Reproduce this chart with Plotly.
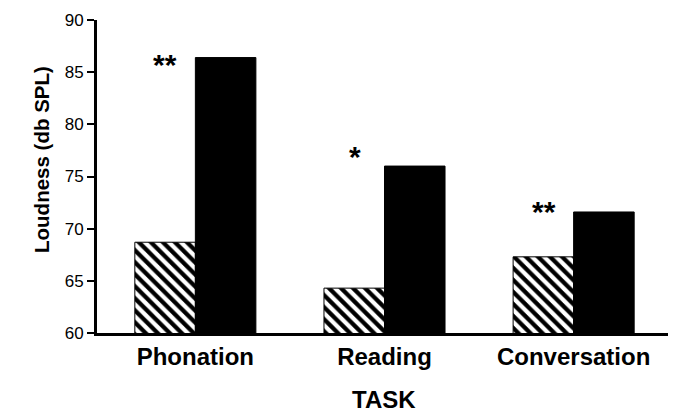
import plotly.graph_objects as go

categories = ["Phonation", "Reading", "Conversation"]
hatched_values = [68.7, 64.3, 67.3]
black_values = [86.4, 76.0, 71.6]
star_labels = ["**", "*", "**"]
star_values = [85.9, 77.1, 71.8]
y_ticks = [60, 65, 70, 75, 80, 85, 90]

FONT = "Liberation Sans, Arial, sans-serif"

fig = go.Figure()
fig.add_trace(go.Bar(
    x=categories, y=hatched_values,
    marker=dict(color="white", line=dict(color="black", width=1),
                pattern=dict(shape="\\", fgcolor="black", bgcolor="white", fgopacity=1,
                             fillmode="replace", size=8.5, solidity=0.5)),
    showlegend=False,
))
fig.add_trace(go.Bar(
    x=categories, y=black_values,
    marker=dict(color="black", line=dict(color="black", width=1)),
    showlegend=False,
))

for cat, val, s in zip(categories, star_values, star_labels):
    fig.add_annotation(x=cat, y=val, text=s, showarrow=False, xshift=-30, yshift=-2,
                       xanchor="center", yanchor="middle",
                       font=dict(family=FONT, size=30, color="black", weight="bold"))

fig.add_annotation(xref="paper", yref="paper", x=-0.0957, y=0.556, text="Loudness (db SPL)",
                   textangle=-90, showarrow=False, xanchor="center", yanchor="middle",
                   font=dict(family=FONT, size=20.5, color="black", weight="bold"))
fig.add_annotation(xref="paper", yref="paper", x=0.499, y=-0.262, text="TASK",
                   showarrow=False, xanchor="center", yanchor="bottom",
                   font=dict(family=FONT, size=24, color="black", weight="bold"))

fig.update_layout(
    width=668, height=404,
    margin=dict(l=89, r=4, t=12, b=79, autoexpand=False),
    paper_bgcolor="white", plot_bgcolor="white",
    barmode="group", bargap=0.36, bargroupgap=0,
    xaxis=dict(range=[-0.52, 2.52], showline=True, linecolor="black", linewidth=3,
               ticks="", showgrid=False, zeroline=False, automargin=False,
               tickfont=dict(family=FONT, size=24, color="black", weight="bold")),
    yaxis=dict(range=[60, 90], tickvals=y_ticks, showline=True, linecolor="black", linewidth=3,
               ticks="outside", ticklen=7, tickwidth=2, tickcolor="black",
               showgrid=False, zeroline=False, automargin=False,
               tickfont=dict(family=FONT, size=17, color="black")),
)

fig.write_html("out.html")
